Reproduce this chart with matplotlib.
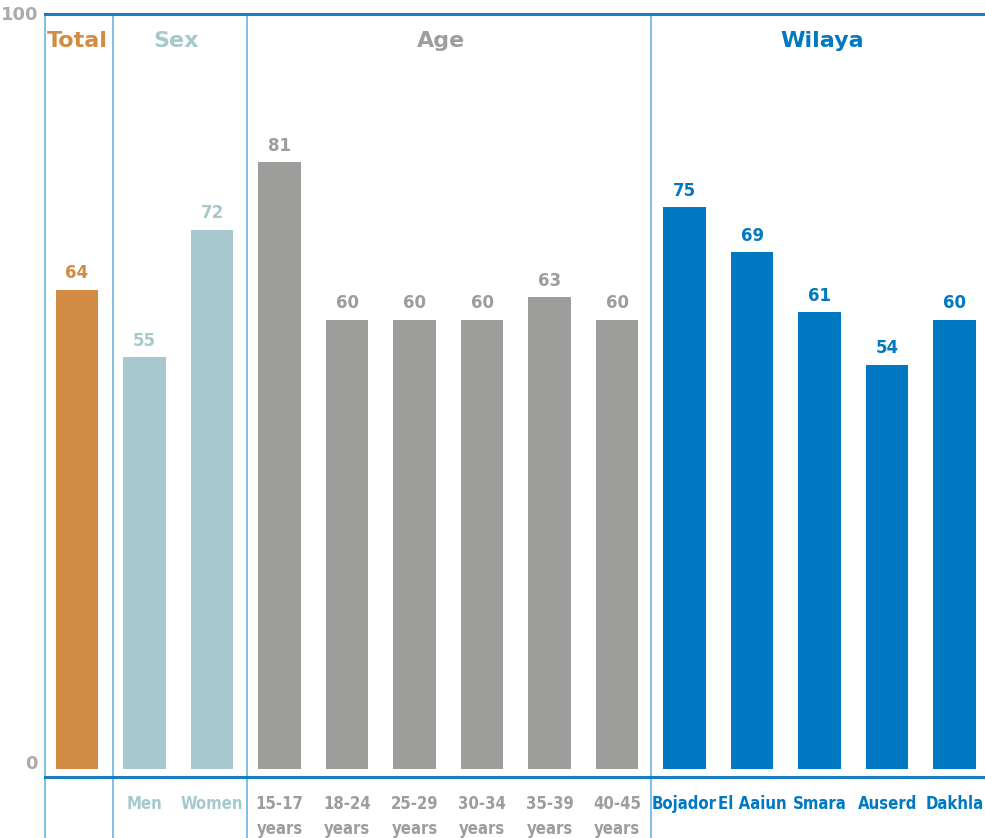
import matplotlib.pyplot as plt
import matplotlib.transforms as mtransforms
import numpy as np

# data
labels = ['', 'Men', 'Women',
          '15-17\nyears', '18-24\nyears', '25-29\nyears', '30-34\nyears', '35-39\nyears', '40-45\nyears',
          'Bojador', 'El Aaiun', 'Smara', 'Auserd', 'Dakhla']
values = [64, 55, 72, 81, 60, 60, 60, 63, 60, 75, 69, 61, 54, 60]
groups = ['Total', 'Sex', 'Sex', 'Age', 'Age', 'Age', 'Age', 'Age', 'Age',
          'Wilaya', 'Wilaya', 'Wilaya', 'Wilaya', 'Wilaya']
group_names = ['Total', 'Sex', 'Age', 'Wilaya']
group_colors = {'Total': '#D18B42', 'Sex': '#A7C9CD', 'Age': '#9D9D9C', 'Wilaya': '#0079C2'}
header_pos = [0.0, 1.47, 5.39, 11.04]   # header centres in bar units
separators = [-0.474, 0.53, 2.52, 8.5]

blue_line = '#1A7DC4'
sep_color = '#6BB3E3'
font = 'DejaVu Sans'

fig = plt.figure(figsize=(9.85, 8.38), dpi=100)
ax = fig.add_axes([45/985, (838-777)/838, 940/985, 763/838])

x = np.arange(len(values))
colors = [group_colors[g] for g in groups]
ax.bar(x, values, width=0.63, color=colors, zorder=2)

for xi, v, c in zip(x, values, colors):
    ax.text(xi, v + 1.0, str(v), ha='center', va='bottom', color=c,
            fontsize=12, fontweight='bold', family=font)

for name, hx in zip(group_names, header_pos):
    ax.text(hx, 97.2, name, ha='center', va='center', color=group_colors[name],
            fontsize=16, fontweight='bold', family=font)

ax.set_xlim(-0.474, 13.45)
ax.set_ylim(-1.07, 100.8)

for s in ['left', 'right']:
    ax.spines[s].set_visible(False)
for s in ['top', 'bottom']:
    ax.spines[s].set_color(blue_line)
    ax.spines[s].set_linewidth(2.2)

# vertical section separators, running down past the axis into the label area
for sx in separators:
    ax.axvline(sx, ymin=-0.08, ymax=1, color=sep_color, linewidth=1.2, clip_on=False, zorder=1)

ax.set_yticks([0, 100])
ax.set_yticklabels(['0', '100'], fontsize=13, fontweight='bold', family=font, color='#ABABAB')
ax.tick_params(axis='y', length=0, pad=5)
lift = mtransforms.ScaledTranslation(0, 5/72, fig.dpi_scale_trans)
for t in ax.get_yticklabels():
    t.set_transform(t.get_transform() + lift)

ax.set_xticks(x)
ax.set_xticklabels(labels, linespacing=1.5, fontsize=12, fontweight='bold',
                   family=font, fontstretch='condensed', va='top')
ax.tick_params(axis='x', length=0, pad=13)
for t, c in zip(ax.get_xticklabels(), colors):
    t.set_color(c)

fig.savefig('out.png', dpi=100)
